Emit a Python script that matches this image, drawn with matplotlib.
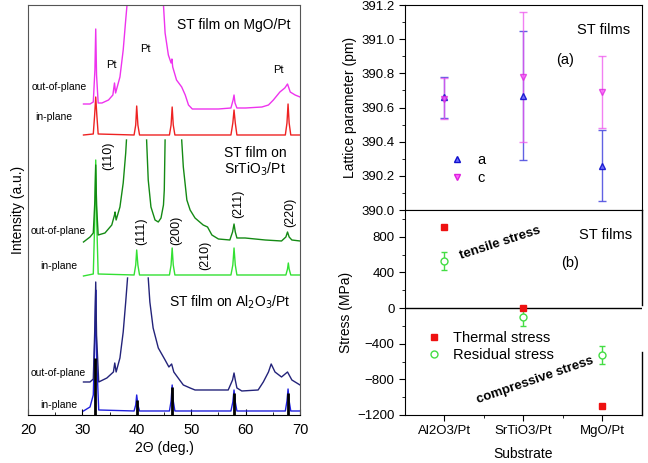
import matplotlib
matplotlib.use('Agg')
import matplotlib.pyplot as plt
from matplotlib.lines import Line2D
import numpy as np

plt.rcParams['font.family'] = ['Liberation Sans', 'DejaVu Sans']
nan = np.nan

# ---- XRD patterns (2theta, intensity a.u.) ----
mgo_out_t = [30.2, 31.4, 32.0, 32.3, 32.45, 32.6, 32.9, 33.6, 34.8, 35.6, 35.9, 36.1, 36.9, 37.5, 37.96, 38.2, nan,
             44.9, 45.2, 45.8, 46.3, 46.45, 46.6, 47.3, 48.25, 48.9, 49.5, 50.2, 52, 55, 57.3, 57.7, 57.87, 58.05,
             58.4, 60, 63.0, 64.2, 65.1, 66.3, 67.2, 67.7, 68.2, 69.1, 70]
mgo_out_i = [311, 311, 313, 345, 386, 340, 312, 312, 315, 320, 332, 322, 338, 365, 395, 410, nan,
             410, 382, 360, 352, 356, 348, 335, 328, 320, 310, 306, 306, 306, 307, 315, 320, 312,
             307, 307, 308, 310, 315, 323, 327, 331, 323, 320, 318]

mgo_in_t = [30.2, 32.0, 32.25, 32.45, 32.65, 32.9, 39.5, 39.8, 39.98, 40.2, 40.5, 46.0, 46.3, 46.5, 46.7, 47.0,
            57.3, 57.65, 57.87, 58.1, 58.4, 67.3, 67.6, 67.8, 68.0, 68.3, 70]
mgo_in_i = [280, 281, 300, 318, 300, 281, 280, 290, 309, 290, 280, 280, 290, 308, 290, 280,
            280, 292, 305, 292, 280, 280, 292, 311, 292, 280, 280]

sto_out_t = [30.2, 31.4, 32.0, 32.3, 32.45, 32.6, 32.9, 34.15, 35.4, 35.9, 36.0, 36.2, 36.9, 37.5, 37.96, 38.1, nan,
             41.8, 42.1, 42.6, 43.35, 43.95, 44.45, 44.9, 45.05, 45.2, nan,
             48.25, 48.55, 49.2, 49.8, 50.7, 52.2, 53.0, 53.8, 55.0, 57.1, 57.6, 57.87, 58.1, 58.4, 59.9,
             63.6, 66.6, 67.4, 67.7, 68.0, 68.5, 70]
sto_out_i = [173, 178, 182, 215, 250, 210, 180, 182, 190, 200, 203, 195, 208, 232, 262, 275, nan,
             275, 235, 208, 195, 193, 197, 210, 225, 275, nan,
             275, 248, 215, 205, 197, 190, 188, 180, 176, 175, 183, 191, 183, 177, 177,
             175, 174, 178, 183, 178, 175, 174]

sto_in_t = [30.2, 32.0, 32.25, 32.45, 32.65, 32.9, 39.5, 39.8, 39.98, 40.2, 40.5, 46.0, 46.3, 46.5, 46.7, 47.0,
            57.3, 57.65, 57.87, 58.1, 58.4, 67.4, 67.7, 67.85, 68.0, 68.3, 70]
sto_in_i = [139, 141, 190, 255, 190, 141, 140, 150, 165, 150, 140, 140, 150, 167, 150, 140,
            140, 150, 167, 150, 140, 140, 146, 152, 146, 140, 140]

alo_out_t = [30.2, 31.4, 32.0, 32.3, 32.45, 32.6, 33.0, 34.5, 35.7, 35.95, 36.2, 36.9, 37.5, 37.96, 38.3, nan,
             42.1, 42.4, 43.0, 43.95, 45.2, 45.9, 46.4, 46.8, 47.6, 48.55, 49.8, 50.7, 56.8, 57.6, 57.87, 58.1,
             58.4, 59.3, 62.3, 63.25, 64.2, 64.7, 65.4, 66.6, 67.7, 68.5, 70]
alo_out_i = [33, 33, 36, 90, 133, 80, 33, 37, 43, 52, 43, 57, 83, 113, 137, nan,
             137, 113, 87, 67, 55, 48, 51, 43, 37, 30, 27, 25, 25, 35, 42, 35,
             27, 24, 25, 33, 43, 51, 43, 38, 43, 35, 30]

alo_in_t = [30.2, 31.4, 32.0, 32.3, 32.45, 32.6, 33.0, 39.5, 39.8, 39.98, 40.2, 40.5, 46.0, 46.3, 46.5, 46.7, 47.0,
            57.3, 57.65, 57.87, 58.1, 58.4, 67.3, 67.6, 67.8, 68.0, 68.3, 70]
alo_in_i = [4, 8, 20, 80, 125, 60, 5, 4, 10, 20, 10, 4, 4, 14, 30, 14, 4,
            4, 13, 25, 13, 4, 4, 14, 26, 14, 4, 4]

stick_pos = [32.4, 40.0, 46.5, 57.8, 67.8]
stick_h = [57, 15, 28, 22, 22]

# ---- lattice parameters and stress ----
substrates = ['Al2O3/Pt', 'SrTiO3/Pt', 'MgO/Pt']
a_val = [390.66, 390.67, 390.26]
a_err = [0.12, 0.38, 0.21]
c_val = [390.65, 390.78, 390.69]
c_err = [0.12, 0.38, 0.21]
thermal = [910, 0, -1100]
residual = [530, -100, -530]
residual_err = [100, 100, 100]

fig = plt.figure(figsize=(6.48, 4.63), dpi=100)

# ================= left: XRD =================
ax = fig.add_axes([0.0432, 0.1037, 0.4198, 0.8855])
ax.plot(mgo_in_t, mgo_in_i, color='#ee2222', lw=1)
ax.plot(mgo_out_t, mgo_out_i, color='#ee33ee', lw=1)
ax.plot(sto_in_t, sto_in_i, color='#33e033', lw=1)
ax.plot(sto_out_t, sto_out_i, color='#148a14', lw=1)
ax.plot(alo_in_t, alo_in_i, color='#2020dd', lw=1)
ax.plot(alo_out_t, alo_out_i, color='#23237a', lw=1)
ax.vlines(stick_pos, 0, stick_h, color='black', lw=2)

ax.set_xlim(20, 70)
ax.set_ylim(0, 410)
ax.set_xticks([20, 30, 40, 50, 60, 70])
ax.set_xticks([25, 35, 45, 55, 65], minor=True)
ax.set_yticks([])
ax.tick_params(axis='x', direction='in', labelsize=10.5, length=4, pad=6)
ax.tick_params(axis='x', which='minor', direction='in', length=2)
ax.set_xlabel('2Θ (deg.)', fontsize=10, labelpad=3)
ax.set_ylabel('Intensity (a.u.)', fontsize=10, labelpad=2)
for s in ax.spines.values():
    s.set_color('#555555')
ax.spines['bottom'].set_color('black')

ax.text(68.2, 390, 'ST film on MgO/Pt', fontsize=10, ha='right', va='center')
ax.text(35.4, 350, 'Pt', fontsize=8, ha='center', va='center')
ax.text(41.5, 366, 'Pt', fontsize=8, ha='center', va='center')
ax.text(66.0, 345, 'Pt', fontsize=8, ha='center', va='center')
ax.text(61.7, 253, 'ST film on\nSrTiO$_3$/Pt', fontsize=10, ha='center', va='center', linespacing=1.1)
ax.text(68.35, 113, 'ST film on Al$_2$O$_3$/Pt', fontsize=10, ha='right', va='center')

for xx, yy, lab in [(20.7, 328, 'out-of-plane'), (21.3, 298, 'in-plane'),
                    (20.4, 184, 'out-of-plane'), (22.2, 149, 'in-plane'),
                    (20.4, 42, 'out-of-plane'), (22.2, 10, 'in-plane')]:
    ax.text(xx, yy, lab, fontsize=7.5, ha='left', va='center')

for xx, yy, lab in [(34.76, 259, '(110)'), (40.9, 184, '(111)'), (47.33, 185, '(200)'),
                    (52.67, 160, '(210)'), (58.66, 211, '(211)'), (68.16, 203, '(220)')]:
    ax.text(xx, yy, lab, fontsize=9, rotation=90, ha='center', va='center')

# ================= right top: lattice parameter =================
pos = np.arange(1, len(substrates) + 1)
ax1 = fig.add_axes([0.625, 0.5464, 0.3657, 0.4428])
ax1.errorbar(pos, a_val, yerr=a_err, fmt='^', color='#4444dd', ecolor='#5050e0',
             mfc='#6a6aff', mec='#1010cc', ms=5, capsize=3, lw=1, alpha=0.9)
ax1.errorbar(pos, c_val, yerr=c_err, fmt='v', color='#ee44ee', ecolor='#ee55ee',
             mfc='#ff66ff', mec='#dd22dd', ms=5, capsize=3, lw=1, alpha=0.75)
ax1.set_xlim(0.5, 3.5)
ax1.set_ylim(390.0, 391.2)
ax1.set_yticks(np.arange(390.0, 391.21, 0.2))
ax1.set_yticks(np.arange(390.1, 391.2, 0.2), minor=True)
ax1.yaxis.set_major_formatter(matplotlib.ticker.FormatStrFormatter('%.1f'))
ax1.set_xticks(pos)
ax1.set_xticks([1.5, 2.5], minor=True)
ax1.set_xticklabels([])
ax1.tick_params(labelsize=9.5, length=4)
ax1.tick_params(which='minor', length=2)
ax1.set_ylabel('Lattice parameter (pm)', fontsize=10, labelpad=3)
ax1.text(0.949, 0.878, 'ST films', transform=ax1.transAxes, fontsize=10.5, ha='right', va='center')
ax1.text(0.675, 0.732, '(a)', transform=ax1.transAxes, fontsize=10.5, ha='center', va='center')
h_a = Line2D([], [], ls='none', marker='^', mfc='#6a6aff', mec='#1010cc', ms=5)
h_c = Line2D([], [], ls='none', marker='v', mfc='#ff66ff', mec='#dd22dd', ms=5)
ax1.legend([h_a, h_c], ['a', 'c'], loc='center left', bbox_to_anchor=(0.12, 0.2), frameon=False,
           fontsize=10.5, handletextpad=0.6, labelspacing=0.3, handlelength=1.5)

# ================= right bottom: stress =================
ax2 = fig.add_axes([0.625, 0.1037, 0.3657, 0.4428])
ax2.axhline(0, color='black', lw=1)
ax2.plot(pos, thermal, 's', color='#ee1111', ms=4, zorder=3)
ax2.errorbar(pos, residual, yerr=residual_err, fmt='o', mfc='white', mec='#44dd44', ecolor='#44dd44',
             ms=5, capsize=2.5, lw=1)
ax2.set_xlim(0.5, 3.5)
ax2.set_ylim(-1200, 1100)
ax2.set_yticks([-1200, -800, -400, 0, 400, 800])
ax2.set_yticks(np.arange(-1000, 1100, 400), minor=True)
ax2.set_xticks(pos)
ax2.set_xticks([1.5, 2.5], minor=True)
ax2.set_xticklabels(substrates)
ax2.tick_params(labelsize=9.5, length=4)
ax2.tick_params(which='minor', length=2)
ax2.set_ylabel('Stress (MPa)', fontsize=10, labelpad=3)
ax2.set_xlabel('Substrate', fontsize=10, labelpad=7)
ax2.spines['right'].set_visible(False)
ax2.plot([1, 1], [0, 0.305], transform=ax2.transAxes, color='black', lw=1, clip_on=False)
ax2.plot([1, 1], [0.535, 1], transform=ax2.transAxes, color='black', lw=1, clip_on=False)
ax2.text(0.958, 0.878, 'ST films', transform=ax2.transAxes, fontsize=10.5, ha='right', va='center')
ax2.text(0.696, 0.741, '(b)', transform=ax2.transAxes, fontsize=10.5, ha='center', va='center')
ax2.text(1.70, 729, 'tensile stress', fontsize=9.5, fontweight='bold', rotation=18, ha='center', va='center')
ax2.text(2.145, -815, 'compressive stress', fontsize=9.5, fontweight='bold', rotation=19, ha='center', va='center')
h_t = Line2D([], [], ls='none', marker='s', color='#ee1111', ms=4)
h_r = Line2D([], [], ls='none', marker='o', mfc='white', mec='#44dd44', ms=5)
ax2.legend([h_t, h_r], ['Thermal stress', 'Residual stress'], loc='center left',
           bbox_to_anchor=(0.02, 0.335), frameon=False, fontsize=10.5,
           handletextpad=0.6, labelspacing=0.2, handlelength=1.5)

fig.savefig('out.png', dpi=100)
